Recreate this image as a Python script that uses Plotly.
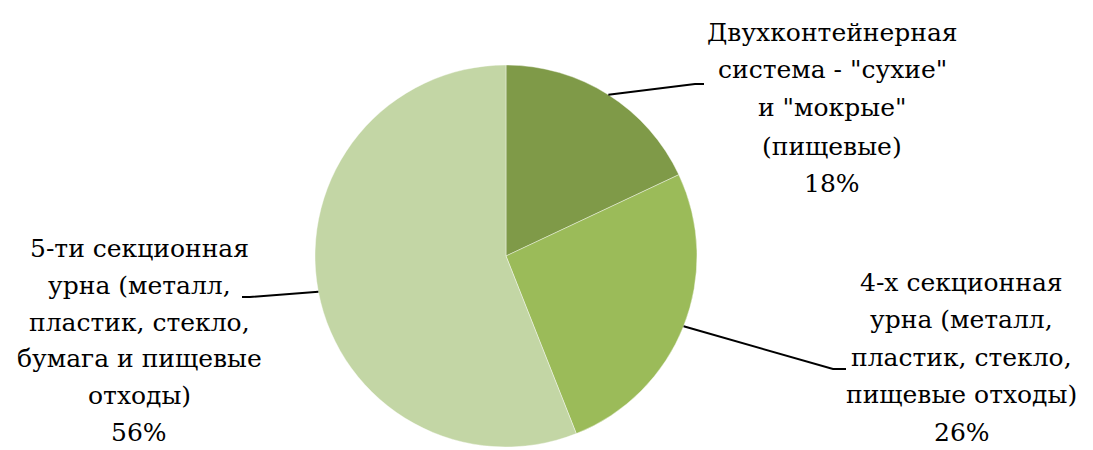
import math
import plotly.graph_objects as go

labels = [['Двухконтейнерная', 'система - "сухие"', 'и "мокрые"', '(пищевые)'],
          ['4-х секционная', 'урна (металл,', 'пластик, стекло,', 'пищевые отходы)'],
          ['5-ти секционная', 'урна (металл,', 'пластик, стекло,', 'бумага и пищевые', 'отходы)']]
values = [18, 26, 56]
colors = ["#7F9A48", "#9BBB59", "#C3D6A5"]

OFF = 8  # default page body margin
W, H = 1093 - OFF, 450 - OFF
cx, cy, R = 506 - OFF, 256 - OFF, 191  # pixels, from figure top-left

fig = go.Figure(go.Pie(
    values=values, labels=[" ".join(l) for l in labels], sort=False, direction="clockwise", rotation=0,
    marker=dict(colors=colors, line=dict(color="rgba(255,255,255,0.4)", width=1)),
    textinfo="none", hoverinfo="none",
    domain=dict(x=[(cx - R) / W, (cx + R) / W], y=[(H - cy - R) / H, (H - cy + R) / H]),
    showlegend=False,
))

# label block: center x, first line y, line step (reference page pixels)
label_pos = [(832, 32, 38), (962, 282, 37.5), (139, 249, 36.6)]
elbows = [((695, 84), (704, 84)), ((833, 369), (846, 369)), ((250, 297), (242, 297))]
FONT = dict(family="DejaVu Serif", size=25, color="black")

def px(x, y):
    return (x - OFF) / W, 1 - (y - OFF) / H

total = sum(values)
cum = 0
shapes = []
annotations = []
for i, v in enumerate(values):
    mid = (cum + v / 2) / total * 2 * math.pi
    cum += v
    sx = cx + OFF + R * math.sin(mid)
    sy = cy + OFF - R * math.cos(mid)
    (ex, ey), (fx, fy) = elbows[i]
    pts = [(sx, sy), (ex, ey), (fx, fy)]
    path = "M " + " L ".join(f"{px(a, b)[0]},{px(a, b)[1]}" for a, b in pts)
    shapes.append(dict(type="path", path=path, xref="paper", yref="paper",
                       line=dict(color="black", width=2)))
    lxp, ly0, step = label_pos[i]
    lines = labels[i] + [f"{v}%"]
    for j, t in enumerate(lines):
        lx, ly = px(lxp, ly0 + j * step)
        annotations.append(dict(text=t, x=lx, y=ly, xref="paper", yref="paper",
                                xanchor="center", yanchor="middle", showarrow=False,
                                borderpad=0, font=FONT))

fig.update_layout(width=W, height=H, margin=dict(l=0, r=0, t=0, b=0),
                  paper_bgcolor="white", plot_bgcolor="white",
                  shapes=shapes, annotations=annotations)
fig.write_html("out.html")
